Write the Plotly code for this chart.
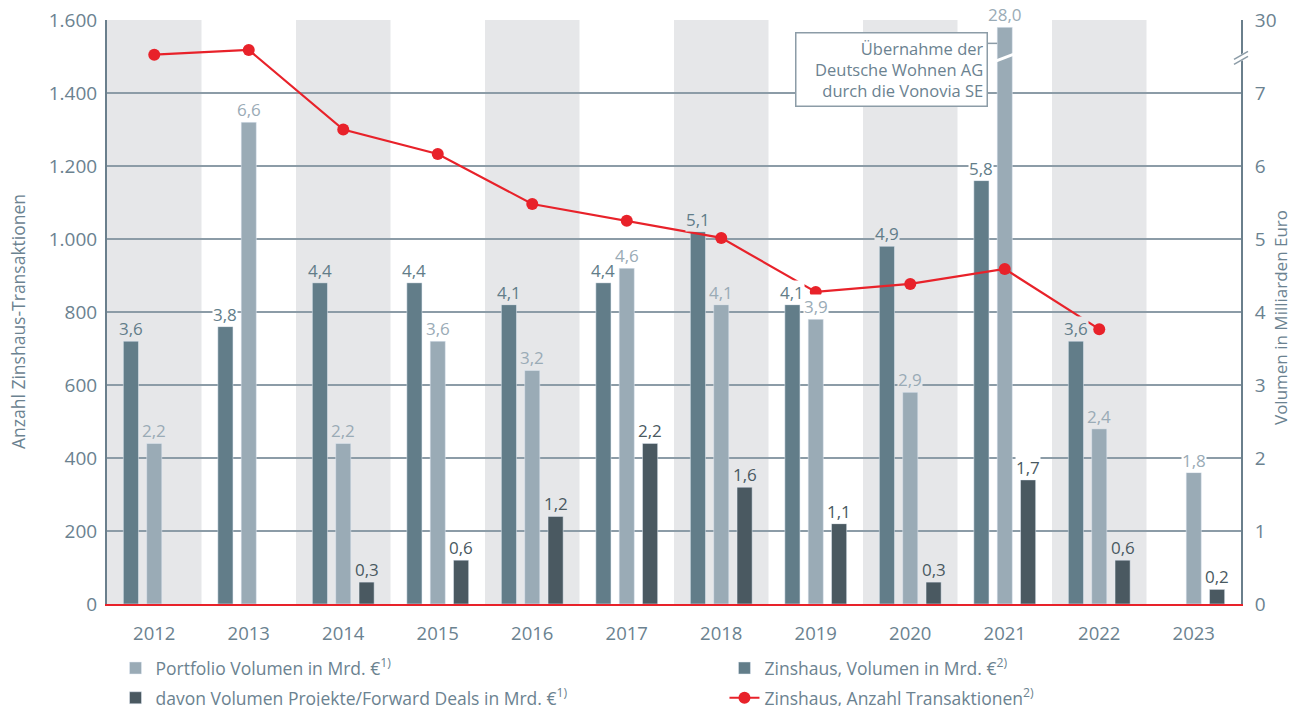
import plotly.graph_objects as go

years = [2012, 2013, 2014, 2015, 2016, 2017, 2018, 2019, 2020, 2021, 2022, 2023]
zinshaus_vol = [3.6, 3.8, 4.4, 4.4, 4.1, 4.4, 5.1, 4.1, 4.9, 5.8, 3.6, None]
portfolio_vol = [2.2, 6.6, 2.2, 3.6, 3.2, 4.6, 4.1, 3.9, 2.9, 28.0, 2.4, 1.8]
projekte_vol = [None, None, 0.3, 0.6, 1.2, 2.2, 1.6, 1.1, 0.3, 1.7, 0.6, 0.2]
anzahl = [1505, 1518, 1300, 1233, 1096, 1050, 1003, 855, 877, 918, 753, None]

right_ticks = [0, 1, 2, 3, 4, 5, 6, 7, 8]
right_ticktext = ["0", "1", "2", "3", "4", "5", "6", "7", "30"]

BREAK_CAP = 7.9   # bars above the axis break are drawn up to here
BREAK_AT = 7.48

C_ZINS = "#627d89"
C_PORT = "#9aabb6"
C_PROJ = "#4a5961"
C_RED = "#e8222a"
C_TXT = "#6b8290"
C_GRID = "#8c9ca7"
C_BAND = "#e6e7e9"
FONT = "Open Sans"

def disp(vals):
    return [None if v is None else min(v, BREAK_CAP) for v in vals]

def fmt(v):
    return f"{v:.1f}".replace(".", ",")

W = 0.16
STEP = 0.247

fig = go.Figure()
fig.add_trace(go.Bar(x=years, y=disp(portfolio_vol), name="Portfolio Volumen in Mrd. €<sup>1)</sup>",
                     marker_color=C_PORT, width=W, offset=-W / 2, yaxis="y",
                     legend="legend", legendgroup="a"))
fig.add_trace(go.Bar(x=years, y=disp(projekte_vol), name="davon Volumen Projekte/Forward Deals in Mrd. €<sup>1)</sup>",
                     marker_color=C_PROJ, width=W, offset=STEP - W / 2, yaxis="y",
                     legend="legend", legendgroup="b"))
fig.add_trace(go.Bar(x=years, y=disp(zinshaus_vol), name="Zinshaus, Volumen in Mrd. €<sup>2)</sup>",
                     marker_color=C_ZINS, width=W, offset=-STEP - W / 2, yaxis="y",
                     legend="legend2", legendgroup="c"))
fig.add_trace(go.Scatter(x=years, y=anzahl, name="Zinshaus, Anzahl Transaktionen<sup>2)</sup>",
                         mode="lines+markers", line=dict(color=C_RED, width=2.2),
                         marker=dict(color=C_RED, size=12), yaxis="y2",
                         legend="legend2", legendgroup="d"))

shapes = []
for yr in years:
    if yr % 2 == 0:
        shapes.append(dict(type="rect", xref="x", yref="paper", x0=yr - 0.5, x1=yr + 0.5,
                           y0=0, y1=1, fillcolor=C_BAND, line_width=0, layer="below"))

annotations = []
def add_labels(vals, shift, color):
    for yr, v in zip(years, vals):
        if v is None:
            continue
        bg = C_BAND if yr % 2 == 0 else "white"
        annotations.append(dict(x=yr + shift, y=min(v, BREAK_CAP), xref="x", yref="y",
                                text=fmt(v), showarrow=False, yanchor="bottom", yshift=0,
                                font=dict(family=FONT, size=17, color=color),
                                bgcolor=bg, borderpad=0))

add_labels(zinshaus_vol, -STEP, C_ZINS)
add_labels(portfolio_vol, 0, C_PORT)
add_labels(projekte_vol, STEP, C_PROJ)

# bar break on the 2021 portfolio bar
shapes.append(dict(type="line", xref="x", yref="y", x0=2021 - 0.09, x1=2021 + 0.09,
                   y0=BREAK_AT - 0.04, y1=BREAK_AT + 0.05, line=dict(color="white", width=3), layer="above"))

# axis break on the right axis
for dy, col, w in [(0, "white", 6), (-2.5, C_GRID, 1.5), (2.5, C_GRID, 1.5)]:
    shapes.append(dict(type="line", xref="paper", yref="y", xsizemode="pixel", ysizemode="pixel",
                       xanchor=1, yanchor=BREAK_AT, x0=-7, x1=7, y0=-4 + dy, y1=4 + dy,
                       line=dict(color=col, width=w), layer="above"))

# callout box and connector
annotations.append(dict(x=2020.82, y=7.83, xref="x", yref="y", xanchor="right", yanchor="top",
                        text="Übernahme der<br>Deutsche Wohnen AG<br>durch die Vonovia SE",
                        align="right", width=184, showarrow=False, bgcolor="white", bordercolor=C_GRID,
                        borderwidth=1.5, borderpad=3,
                        font=dict(family=FONT, size=16.5, color=C_TXT)))
shapes.append(dict(type="line", xref="x", yref="y", x0=2020.82, x1=2020.92, y0=7.68, y1=7.68,
                   line=dict(color=C_GRID, width=1.5), layer="above"))

# axis titles
annotations.append(dict(text="Anzahl Zinshaus-Transaktionen", xref="paper", yref="paper",
                        x=0, xshift=-89, xanchor="center", y=0.5, yshift=-10, yanchor="middle",
                        textangle=-90, showarrow=False,
                        font=dict(family=FONT, size=17.5, color=C_TXT)))
annotations.append(dict(text="Volumen in Milliarden Euro", xref="paper", yref="paper",
                        x=1, xshift=39, xanchor="center", y=0.5, yshift=-6, yanchor="middle",
                        textangle=-90, showarrow=False,
                        font=dict(family=FONT, size=17, color=C_TXT)))

legend_common = dict(orientation="v", yanchor="top", y=-0.079, traceorder="grouped",
                     tracegroupgap=4, bgcolor="rgba(0,0,0,0)",
                     font=dict(family=FONT, size=17.5, color=C_TXT))

fig.update_layout(
    width=1290, height=706,
    margin=dict(l=107, r=49, t=20, b=102, autoexpand=False),
    paper_bgcolor="white", plot_bgcolor="white",
    separators=",.",
    font=dict(family=FONT, size=16, color=C_TXT),
    barmode="overlay",
    showlegend=True,
    legend=dict(x=0.0075, xanchor="left", **legend_common),
    legend2=dict(x=0.5445, xanchor="left", **legend_common),
    xaxis=dict(range=[2011.5, 2023.5], tickvals=years, showgrid=False, zeroline=False,
               showline=True, linecolor=C_RED, linewidth=2, ticks="outside", ticklen=12,
               tickcolor="rgba(0,0,0,0)", tickfont=dict(size=18.5, color=C_TXT)),
    yaxis=dict(range=[0, 8], side="right", tickvals=right_ticks, ticktext=right_ticktext,
               showgrid=True, gridcolor=C_GRID, gridwidth=1.5, zeroline=False,
               showline=True, linecolor="#6a7f8c", linewidth=2, ticks="outside", ticklen=8,
               tickcolor="rgba(0,0,0,0)", tickfont=dict(size=19, color=C_TXT), automargin=False),
    yaxis2=dict(range=[0, 1600], side="left", overlaying="y", dtick=200, tickformat=",d",
                showgrid=False, zeroline=False, showline=True, linecolor="#6a7f8c", linewidth=2,
                ticks="outside", ticklen=4, tickcolor="rgba(0,0,0,0)",
                tickfont=dict(size=19, color=C_TXT), automargin=False),
    shapes=shapes,
    annotations=annotations,
)

# remove the default page margin so the figure sits at the window's top-left corner
fig.write_html("out.html", config={"displayModeBar": False},
               post_script="document.body.style.margin='0';document.body.style.overflow='hidden';")
